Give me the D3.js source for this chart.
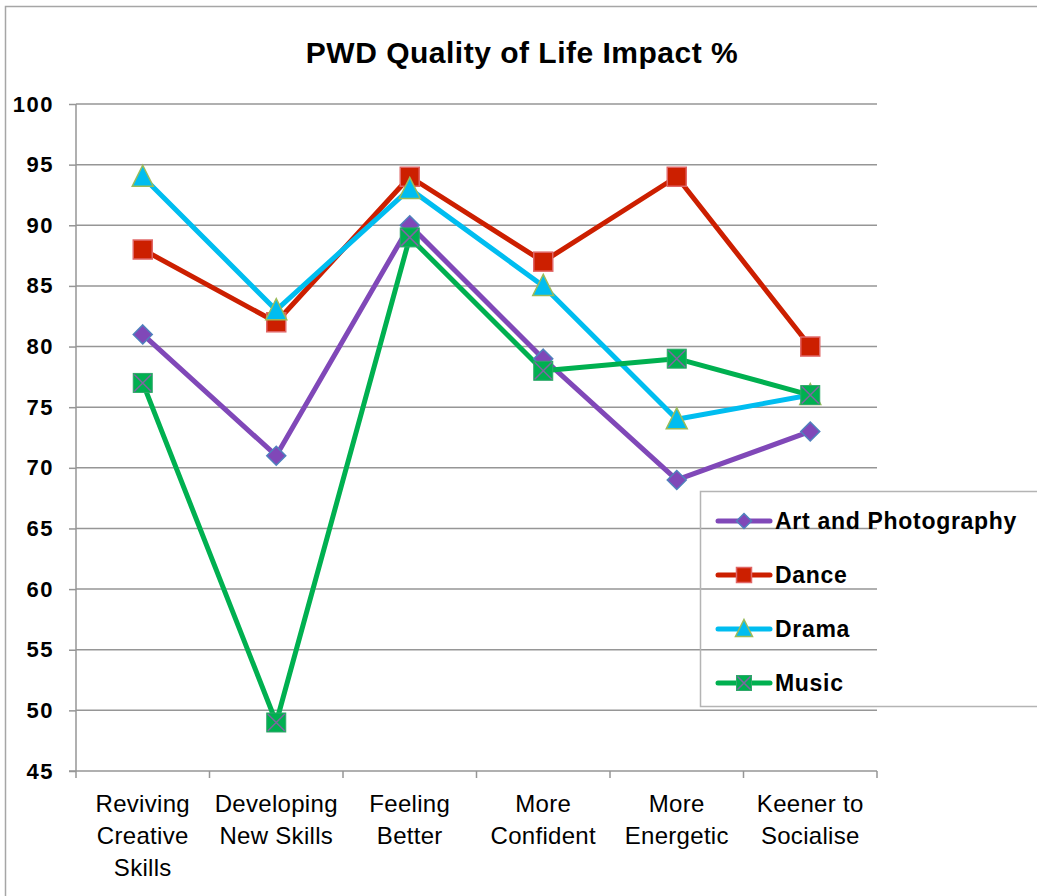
<!DOCTYPE html>
<html>
<head>
<meta charset="utf-8">
<script src="https://cdn.jsdelivr.net/npm/d3@7"></script>
<style>
  body { margin: 0; background: #fff; }
</style>
</head>
<body>
<svg id="chart" width="1037" height="896"></svg>
<script>
// data
const categories = [
  ["Reviving", "Creative", "Skills"],
  ["Developing", "New Skills"],
  ["Feeling", "Better"],
  ["More", "Confident"],
  ["More", "Energetic"],
  ["Keener to", "Socialise"]
];
const seriesNames = ["Art and Photography", "Dance", "Drama", "Music"];
const artValues = [81, 71, 90, 79, 69, 73];
const danceValues = [88, 82, 94, 87, 94, 80];
const dramaValues = [94, 83, 93, 85, 74, 76];
const musicValues = [77, 49, 89, 78, 79, 76];
const yTicks = [45, 50, 55, 60, 65, 70, 75, 80, 85, 90, 95, 100];

const series = [
  { name: seriesNames[0], values: artValues, color: "#8048b8", marker: "diamond", fill: "#8048b8", stroke: "#4f81bd" },
  { name: seriesNames[1], values: danceValues, color: "#cc1f00", marker: "square", fill: "#cc1f00", stroke: "#e06666" },
  { name: seriesNames[2], values: dramaValues, color: "#00bdf0", marker: "triangle", fill: "#00bdf0", stroke: "#9bbb59" },
  { name: seriesNames[3], values: musicValues, color: "#00b050", marker: "xsquare", fill: "#00b050", stroke: "#8064a2" }
];

const FONT = "Liberation Sans, Arial, sans-serif";
const svg = d3.select("#chart");
const margin = { left: 76, top: 104 };
const plotW = 877 - margin.left;
const plotH = 771 - margin.top;

// outer frame
svg.append("rect")
  .attr("x", 5.5).attr("y", 6.5)
  .attr("width", 1040).attr("height", 900)
  .attr("fill", "none").attr("stroke", "#a6a6a6").attr("stroke-width", 1.5);

svg.append("text")
  .attr("x", 522).attr("y", 63)
  .attr("text-anchor", "middle")
  .attr("font-family", FONT)
  .attr("font-size", 30).attr("font-weight", "bold")
  .attr("letter-spacing", 0.5)
  .text("PWD Quality of Life Impact %");

const x = d3.scaleBand().domain(d3.range(categories.length)).range([0, plotW]);
const y = d3.scaleLinear().domain([45, 100]).range([plotH, 0]);

const g = svg.append("g").attr("transform", `translate(${margin.left},${margin.top})`);

// gridlines
g.append("g").selectAll("line")
  .data(yTicks.slice(1))
  .enter().append("line")
  .attr("x1", 0).attr("x2", plotW)
  .attr("y1", d => y(d)).attr("y2", d => y(d))
  .attr("stroke", "#969696").attr("stroke-width", 1.5);

// y axis
const yAxis = g.append("g")
  .call(d3.axisLeft(y).tickValues(yTicks).tickSize(7).tickPadding(15));
yAxis.select(".domain").attr("stroke", "#969696").attr("stroke-width", 1.5)
  .attr("d", `M0,${plotH}V0`);
yAxis.selectAll(".tick line").attr("stroke", "#969696").attr("stroke-width", 1.5);
yAxis.selectAll(".tick text")
  .attr("font-family", FONT)
  .attr("font-size", 22).attr("font-weight", "bold").attr("fill", "#000")
  .attr("letter-spacing", 1.5);

// x axis
const xAxis = g.append("g").attr("transform", `translate(0,${plotH})`);
xAxis.append("line").attr("x1", -7).attr("x2", plotW)
  .attr("stroke", "#969696").attr("stroke-width", 1.5);
xAxis.selectAll(".xt")
  .data(d3.range(categories.length + 1))
  .enter().append("line")
  .attr("x1", d => d * x.step()).attr("x2", d => d * x.step())
  .attr("y1", 0).attr("y2", 7)
  .attr("stroke", "#969696").attr("stroke-width", 1.5);

const xl = xAxis.selectAll(".xl")
  .data(categories)
  .enter().append("text")
  .attr("text-anchor", "middle")
  .attr("font-family", FONT)
  .attr("font-size", 24)
  .attr("letter-spacing", 0.3)
  .attr("transform", (d, i) => `translate(${x(i) + x.bandwidth() / 2},0)`);
xl.selectAll("tspan")
  .data(d => d)
  .enter().append("tspan")
  .attr("x", 0)
  .attr("y", (d, i) => 41 + i * 32)
  .text(d => d);

// lines
const line = d3.line()
  .x((d, i) => x(i) + x.bandwidth() / 2)
  .y(d => y(d));

function drawMarker(sel, s, size) {
  const h = size / 2;
  if (s.marker === "diamond") {
    sel.append("path")
      .attr("d", `M0,${-h - 1}L${h + 1},0L0,${h + 1}L${-h - 1},0Z`)
      .attr("fill", s.fill).attr("stroke", s.stroke).attr("stroke-width", 1.5);
  } else if (s.marker === "square") {
    sel.append("rect")
      .attr("x", -h - 1).attr("y", -h - 1).attr("width", size + 2).attr("height", size + 2)
      .attr("fill", s.fill).attr("stroke", s.stroke).attr("stroke-width", 1.5);
  } else if (s.marker === "triangle") {
    sel.append("path")
      .attr("d", `M0,${-h - 3}L${h + 2},${h + 1}L${-h - 2},${h + 1}Z`)
      .attr("fill", s.fill).attr("stroke", s.stroke).attr("stroke-width", 1.5);
  } else {
    sel.append("rect")
      .attr("x", -h - 1).attr("y", -h - 1).attr("width", size + 2).attr("height", size + 2)
      .attr("fill", s.fill).attr("stroke", "#2fa86a").attr("stroke-width", 1);
    sel.append("path")
      .attr("d", `M${-h},${-h}L${h},${h}M${h},${-h}L${-h},${h}`)
      .attr("stroke", s.stroke).attr("stroke-width", 1.5);
  }
}

series.forEach(s => {
  g.append("path")
    .datum(s.values)
    .attr("fill", "none")
    .attr("stroke", s.color)
    .attr("stroke-width", 5)
    .attr("stroke-linejoin", "round")
    .attr("d", line);
});

series.forEach(s => {
  s.values.forEach((v, i) => {
    const m = g.append("g")
      .attr("transform", `translate(${x(i) + x.bandwidth() / 2},${y(v)})`);
    drawMarker(m, s, 17);
  });
});

// legend
const legend = svg.append("g");
legend.append("rect")
  .attr("x", 700.5).attr("y", 491.5)
  .attr("width", 400).attr("height", 215)
  .attr("fill", "none").attr("stroke", "#b4b4b4").attr("stroke-width", 1.5);

series.forEach((s, i) => {
  const ly = 521 + i * 54;
  const item = legend.append("g").attr("transform", `translate(0,${ly})`);
  item.append("line")
    .attr("x1", 718).attr("x2", 770)
    .attr("stroke", s.color).attr("stroke-width", 5).attr("stroke-linecap", "round");
  const m = item.append("g").attr("transform", "translate(744,0)");
  drawMarker(m, s, 13);
  item.append("text")
    .attr("x", 775).attr("y", 8)
    .attr("font-family", FONT)
    .attr("font-size", 23).attr("font-weight", "bold")
    .attr("letter-spacing", 0.7)
    .text(s.name);
});
</script>
</body>
</html>
